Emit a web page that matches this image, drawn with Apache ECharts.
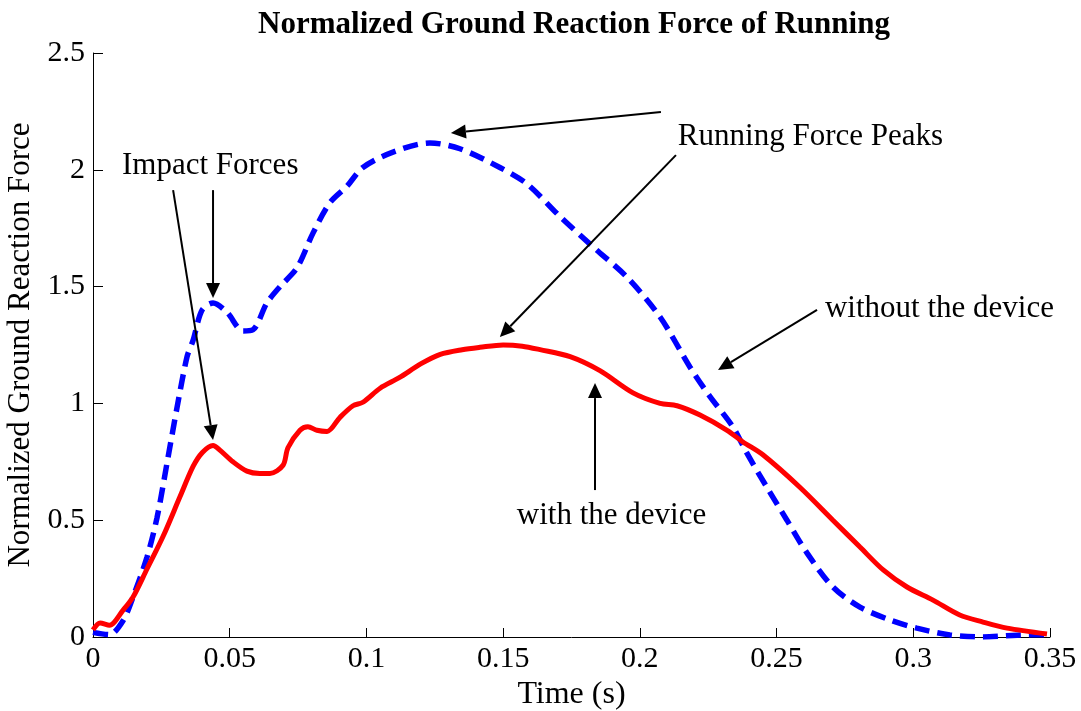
<!DOCTYPE html>
<html>
<head>
<meta charset="utf-8">
<script src="https://cdn.jsdelivr.net/npm/echarts@6/dist/echarts.min.js"></script>
<style>
  html, body { margin: 0; padding: 0; background: #fff; }
  #chart { width: 1081px; height: 711px; }
</style>
</head>
<body>
<div id="chart"></div>
<script>
// Vertical ground reaction force, normalized by body weight, over one stance phase
const timeWith = [0, 0.0026, 0.006, 0.011, 0.0146, 0.0197, 0.0256, 0.0318, 0.0366, 0.040, 0.0439, 0.0464, 0.0512, 0.0563, 0.061, 0.0647, 0.0695, 0.0713, 0.0757, 0.0786, 0.0819, 0.0856, 0.0903, 0.0951, 0.0987, 0.105, 0.112, 0.12, 0.127, 0.135, 0.1415, 0.15, 0.157, 0.1635, 0.1745, 0.1854, 0.1975, 0.2074, 0.2136, 0.222, 0.2319, 0.2377, 0.245, 0.2586, 0.2706, 0.2805, 0.289, 0.2977, 0.3072, 0.317, 0.3255, 0.3343, 0.3489];
const forceWith = [0.03, 0.06, 0.05, 0.115, 0.17, 0.29, 0.43, 0.60, 0.73, 0.79, 0.82, 0.80, 0.75, 0.71, 0.70, 0.70, 0.735, 0.81, 0.885, 0.90, 0.885, 0.88, 0.94, 0.99, 1.005, 1.065, 1.11, 1.17, 1.21, 1.23, 1.24, 1.25, 1.245, 1.23, 1.20, 1.14, 1.045, 1.00, 0.99, 0.95, 0.885, 0.835, 0.78, 0.64, 0.50, 0.385, 0.287, 0.214, 0.158, 0.094, 0.064, 0.038, 0.013];

const timeWithout = [0, 0.006, 0.011, 0.0146, 0.0197, 0.0234, 0.027, 0.0307, 0.0344, 0.0366, 0.0399, 0.0439, 0.049, 0.0549, 0.0585, 0.0636, 0.0684, 0.0746, 0.0805, 0.0867, 0.0929, 0.0987, 0.1097, 0.1232, 0.1342, 0.1488, 0.1587, 0.1708, 0.1829, 0.1953, 0.2074, 0.2183, 0.2256, 0.234, 0.239, 0.2465, 0.2538, 0.2611, 0.2706, 0.2805, 0.2915, 0.3013, 0.3134, 0.3255, 0.338, 0.3489];
const forceWithout = [0.02, 0.01, 0.07, 0.17, 0.34, 0.51, 0.74, 0.98, 1.20, 1.27, 1.40, 1.43, 1.39, 1.31, 1.315, 1.43, 1.50, 1.58, 1.73, 1.86, 1.93, 2.01, 2.076, 2.115, 2.09, 2.01, 1.94, 1.80, 1.67, 1.54, 1.37, 1.156, 1.03, 0.90, 0.79, 0.64, 0.50, 0.36, 0.214, 0.128, 0.073, 0.038, 0.009, 0.0, 0.008, 0.01];

const xTicks = [0, 0.05, 0.1, 0.15, 0.2, 0.25, 0.3, 0.35];
const yTicks = [0, 0.5, 1, 1.5, 2, 2.5];

// Annotation texts and arrows, in data coordinates [time, force]
const notes = [
  { text: 'Impact Forces', at: [0.0106, 2.016] },
  { text: 'Running Force Peaks', at: [0.2139, 2.14] },
  { text: 'without the device', at: [0.2677, 1.404] },
  { text: 'with the device', at: [0.155, 0.518] }
];
const arrows = [
  { from: [0.0293, 1.913], to: [0.0439, 0.843] },
  { from: [0.0439, 1.913], to: [0.0439, 1.451] },
  { from: [0.2077, 2.247], to: [0.1309, 2.158] },
  { from: [0.2132, 2.063], to: [0.1488, 1.284] },
  { from: [0.2648, 1.40], to: [0.2286, 1.143] },
  { from: [0.1836, 0.629], to: [0.1836, 1.087] }
];

const serif = 'Liberation Serif, Times New Roman, serif';
const chart = echarts.init(document.getElementById('chart'), null, { renderer: 'canvas' });

const pairs = (ts, vs) => ts.map((t, i) => [t, vs[i]]);
const tickText = list => v => {
  const s = list.find(x => Math.abs(x - v) < 1e-9);
  return s === undefined ? '' : String(s);
};

chart.setOption({
  animation: false,
  backgroundColor: '#fff',
  title: {
    text: 'Normalized Ground Reaction Force of Running',
    left: 569, top: 4, textAlign: 'center',
    textStyle: { fontFamily: serif, fontWeight: 'bold', fontSize: 31, color: '#000' }
  },
  grid: { left: 93, right: 31, top: 53, bottom: 74, containLabel: false, outerBoundsMode: 'none' },
  xAxis: {
    type: 'value', min: 0, max: 0.35, interval: 0.05,
    name: 'Time (s)', nameLocation: 'middle', nameGap: 35,
    nameTextStyle: { fontFamily: serif, fontSize: 32, color: '#000' },
    axisLine: { show: true, lineStyle: { color: '#000', width: 1 } },
    axisTick: { show: true, inside: true, length: 9, lineStyle: { color: '#000' } },
    axisLabel: { fontFamily: serif, fontSize: 30, color: '#000', margin: 7, formatter: tickText(xTicks) },
    splitLine: { show: false }
  },
  yAxis: {
    type: 'value', min: 0, max: 2.5, interval: 0.5,
    name: 'Normalized Ground Reaction Force', nameLocation: 'middle', nameGap: 44,
    nameTextStyle: { fontFamily: serif, fontSize: 31, color: '#000' },
    axisLine: { show: true, lineStyle: { color: '#000', width: 1 } },
    axisTick: { show: true, inside: true, length: 10, lineStyle: { color: '#000' } },
    axisLabel: { fontFamily: serif, fontSize: 30, color: '#000', margin: 8, formatter: tickText(yTicks) },
    splitLine: { show: false }
  },
  series: [
    {
      name: 'with the device', type: 'line', data: pairs(timeWith, forceWith),
      showSymbol: false, smooth: 0.3,
      lineStyle: { color: '#ff0000', width: 5 }, z: 3
    },
    {
      name: 'without the device', type: 'line', data: pairs(timeWithout, forceWithout),
      showSymbol: false, smooth: 0.3,
      lineStyle: { color: '#0000ff', width: 5.5, type: [15, 8] }, z: 2
    }
  ]
});

// Place annotation graphics through the axis scales
function arrowGraphic(a) {
  const p0 = chart.convertToPixel({ gridIndex: 0 }, a.from);
  const p1 = chart.convertToPixel({ gridIndex: 0 }, a.to);
  const dx = p1[0] - p0[0], dy = p1[1] - p0[1];
  const len = Math.hypot(dx, dy);
  const ux = dx / len, uy = dy / len;
  const headLen = 15, headHalf = 7;
  const bx = p1[0] - ux * headLen, by = p1[1] - uy * headLen;
  return [
    { type: 'line', shape: { x1: p0[0], y1: p0[1], x2: bx, y2: by },
      style: { stroke: '#000', lineWidth: 2 }, z: 10 },
    { type: 'polygon', shape: { points: [
        [p1[0], p1[1]],
        [bx - uy * headHalf, by + ux * headHalf],
        [bx + uy * headHalf, by - ux * headHalf]
      ] }, style: { fill: '#000' }, z: 10 }
  ];
}

const graphics = [];
notes.forEach(n => {
  const p = chart.convertToPixel({ gridIndex: 0 }, n.at);
  graphics.push({ type: 'text', x: p[0], y: p[1], z: 10,
    style: { text: n.text, fill: '#000', font: '31px ' + serif, verticalAlign: 'middle' } });
});
arrows.forEach(a => graphics.push(...arrowGraphic(a)));
chart.setOption({ graphic: graphics });
</script>
</body>
</html>
